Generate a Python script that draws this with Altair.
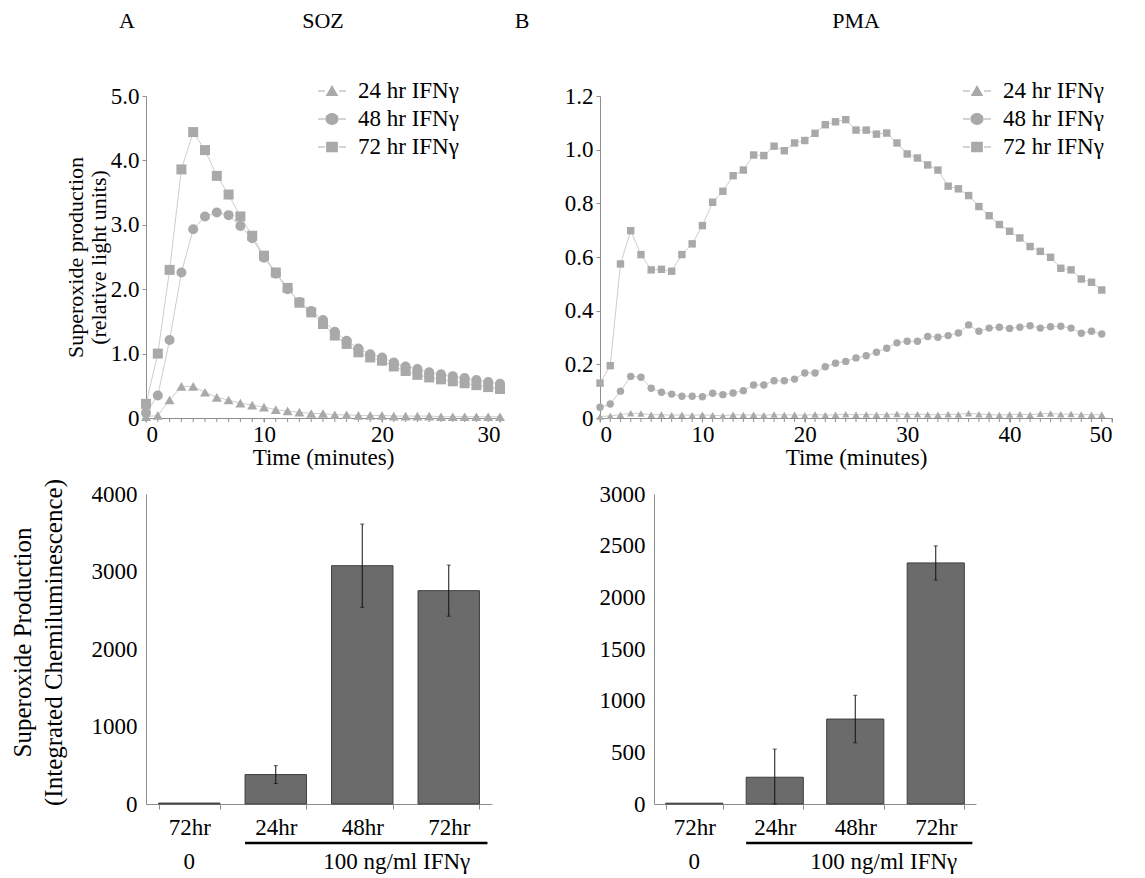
import altair as alt
import pandas as pd

FONT = "Liberation Serif"
MARK_COLOR = "#a9a9a9"
LINE_COLOR = "#cdcdcd"
AXIS_COLOR = "#8f8f8f"
BAR_FILL = "#6b6b6b"
BAR_STROKE = "#3f3f3f"
FS = 23

SERIES = ["24 hr IFNγ", "48 hr IFNγ", "72 hr IFNγ"]
SHAPES = ["triangle-up", "circle", "square"]
DASH = "M-1,-0.04H-0.5V0.04H-1Z M0.5,-0.04H1V0.04H0.5Z "
LEGEND_SHAPES = [
    DASH + "M0,-0.42L0.45,0.36H-0.45Z",
    DASH + "M-0.47,0A0.47,0.42,0,1,0,0.47,0A0.47,0.42,0,1,0,-0.47,0Z",
    DASH + "M-0.42,-0.38H0.42V0.38H-0.42Z",
]

# ---- panel A (SOZ), one reading per minute ----
SOZ_TIME = list(range(0, 31))
SOZ_24 = [0.02, 0.04, 0.28, 0.49, 0.49, 0.40, 0.32, 0.28, 0.23, 0.20, 0.17,
          0.13, 0.11, 0.09, 0.07, 0.07, 0.05, 0.05, 0.04, 0.04, 0.04, 0.03,
          0.03, 0.03, 0.03, 0.02, 0.02, 0.02, 0.02, 0.02, 0.02]
SOZ_48 = [0.08, 0.35, 1.21, 2.26, 2.93, 3.13, 3.19, 3.15, 2.98, 2.79, 2.49,
          2.24, 2.00, 1.80, 1.66, 1.52, 1.34, 1.20, 1.08, 0.99, 0.94, 0.86,
          0.80, 0.76, 0.71, 0.68, 0.65, 0.62, 0.59, 0.56, 0.53]
SOZ_72 = [0.22, 1.00, 2.30, 3.86, 4.44, 4.16, 3.76, 3.47, 3.13, 2.83, 2.52,
          2.26, 2.02, 1.79, 1.64, 1.46, 1.28, 1.15, 1.02, 0.94, 0.89, 0.80,
          0.73, 0.67, 0.63, 0.60, 0.57, 0.54, 0.51, 0.48, 0.45]

# ---- panel B (PMA), one reading per minute ----
PMA_TIME = list(range(0, 50))
PMA_24 = [0.005, 0.008, 0.012, 0.018, 0.017, 0.012, 0.013, 0.010, 0.012, 0.010,
          0.012, 0.010, 0.008, 0.012, 0.011, 0.012, 0.010, 0.013, 0.011, 0.012,
          0.010, 0.013, 0.011, 0.012, 0.014, 0.012, 0.013, 0.012, 0.013, 0.015,
          0.013, 0.014, 0.013, 0.012, 0.014, 0.013, 0.018, 0.014, 0.013, 0.011,
          0.013, 0.014, 0.012, 0.016, 0.017, 0.014, 0.015, 0.013, 0.012, 0.012]
PMA_48 = [0.040, 0.052, 0.100, 0.155, 0.152, 0.111, 0.096, 0.089, 0.081, 0.081,
          0.079, 0.092, 0.087, 0.093, 0.102, 0.123, 0.123, 0.139, 0.139, 0.145,
          0.168, 0.168, 0.191, 0.204, 0.211, 0.224, 0.232, 0.245, 0.260, 0.280,
          0.286, 0.286, 0.304, 0.301, 0.307, 0.317, 0.347, 0.323, 0.335, 0.338,
          0.334, 0.338, 0.344, 0.335, 0.340, 0.342, 0.335, 0.316, 0.323, 0.313]
PMA_72 = [0.130, 0.195, 0.574, 0.698, 0.609, 0.552, 0.554, 0.547, 0.609, 0.649,
          0.717, 0.804, 0.845, 0.903, 0.924, 0.980, 0.978, 1.013, 0.996, 1.025,
          1.034, 1.061, 1.093, 1.104, 1.112, 1.073, 1.073, 1.058, 1.062, 1.025,
          0.984, 0.969, 0.943, 0.924, 0.864, 0.854, 0.829, 0.788, 0.754, 0.721,
          0.696, 0.671, 0.639, 0.621, 0.599, 0.558, 0.552, 0.518, 0.506, 0.477]

# ---- bar panels ----
CATS = ["c0", "c1", "c2", "c3"]
CAT_LABELS = ["72hr", "24hr", "48hr", "72hr"]
SOZ_BAR = [12, 380, 3075, 2753]
SOZ_ERR = [0, 115, 537, 330]
PMA_BAR = [8, 259, 822, 2333]
PMA_ERR = [0, 272, 230, 165]


def anchor(x, y, baseline):
    # invisible text used only to fix the layout bounds of a panel
    return alt.Chart(pd.DataFrame({"s": ["."]})).mark_text(
        opacity=0, fontSize=10, align="left", baseline=baseline
    ).encode(text="s:N", x=alt.value(x), y=alt.value(y))


def line_panel(times, vals, width, height, xmax, ymax, yticks, sizes,
               letter, letter_x, name, name_x, legend_x, ytitle=None, extra=None):
    rows = []
    for s, vs in zip(SERIES, vals):
        for t, v in zip(times, vs):
            rows.append({"t": t, "v": v, "series": s})
    df = pd.DataFrame(rows)

    x_axis = alt.Axis(values=list(range(0, xmax + 1, 10)), format="d",
                      title="Time (minutes)", labelOverlap=False,
                      titleX=width / 2, titleY=39, titleBaseline="middle",
                      titleFontSize=FS, labelPadding=1, tickSize=4)
    ykw = dict(values=yticks, tickSize=4, labelPadding=3,
               labelExpr="datum.value == 0 ? '0' : format(datum.value, '.1f')")
    if ytitle:
        ykw.update(title=ytitle, titleX=-71, titleY=height / 2, titleAngle=270,
                   titleAlign="center", titleBaseline="middle", titleFontSize=22,
                   titleLineHeight=23)
    else:
        ykw.update(title=None)
    x = alt.X("t:Q", scale=alt.Scale(domain=[0, xmax], nice=False), axis=x_axis)
    y = alt.Y("v:Q", scale=alt.Scale(domain=[0, ymax], nice=False), axis=alt.Axis(**ykw))

    base = alt.Chart(df)
    lines = base.mark_line(color=LINE_COLOR, strokeWidth=1).encode(x=x, y=y, detail="series:N")
    pts = base.mark_point(filled=True, opacity=1, color=MARK_COLOR, strokeWidth=0).encode(
        x="t:Q", y="v:Q",
        shape=alt.Shape("series:N", scale=alt.Scale(domain=SERIES, range=SHAPES), legend=None),
        size=alt.Size("series:O", scale=alt.Scale(domain=SERIES, range=sizes), legend=None),
        order=alt.Order("series:N"),
    )
    leg = base.transform_filter("false").mark_point(filled=True, opacity=1, color=MARK_COLOR).encode(
        x="t:Q", y="v:Q",
        shape=alt.Shape("series:N", scale=alt.Scale(domain=SERIES, range=LEGEND_SHAPES),
                        legend=alt.Legend(title=None, orient="none", legendX=legend_x, legendY=-19,
                                          labelFont=FONT, labelFontSize=FS, labelColor="black",
                                          symbolSize=784, labelOffset=12, rowPadding=2,
                                          symbolFillColor=MARK_COLOR, symbolStrokeWidth=0,
                                          symbolOpacity=1, padding=0, labelLimit=0)),
    )
    # small ticks at every reading along the time axis
    minute_ticks = alt.Chart(pd.DataFrame({"t": list(range(0, xmax + 1))})).mark_rule(
        color=AXIS_COLOR, strokeWidth=1
    ).encode(x="t:Q", y=alt.value(height), y2=alt.value(height + 4))
    t1 = alt.Chart(pd.DataFrame({"s": [letter]})).mark_text(
        font=FONT, fontSize=22, color="black", baseline="middle", align="center"
    ).encode(text="s:N", x=alt.value(letter_x), y=alt.value(-75))
    t2 = alt.Chart(pd.DataFrame({"s": [name]})).mark_text(
        font=FONT, fontSize=22, color="black", baseline="middle", align="center"
    ).encode(text="s:N", x=alt.value(name_x), y=alt.value(-75))
    layers = [lines, minute_ticks, pts, leg, t1, t2] + (extra or [])
    return alt.layer(*layers).resolve_scale(
        shape="independent", size="independent"
    ).properties(width=width, height=height)


def bar_panel(means, errs, width, height, ymax, ytitle=None, extra=None):
    df = pd.DataFrame({
        "cat": CATS,
        "mean": means,
        "lo": [max(0, m - e) for m, e in zip(means, errs)],
        "hi": [m + e for m, e in zip(means, errs)],
        "err": errs,
    })
    label_expr = ("datum.value == 'c0' ? '%s' : datum.value == 'c1' ? '%s' : "
                  "datum.value == 'c2' ? '%s' : datum.value == 'c3' ? '%s' : ''") % tuple(CAT_LABELS)
    x = alt.X("cat:N", sort=CATS,
              scale=alt.Scale(domain=CATS, paddingInner=0.29, paddingOuter=0.145),
              axis=alt.Axis(title=None, labelExpr=label_expr, labelAngle=0, tickBand="extent",
                            tickSize=5, labelPadding=7, labelFontSize=FS))
    ykw = dict(values=list(range(0, ymax + 1, 500)), format="d", ticks=False, labelPadding=9)
    if ytitle:
        ykw.update(title=ytitle, titleX=-124, titleY=148, titleAngle=270, titleAlign="center",
                   titleBaseline="middle", titleFontSize=25, titleLineHeight=31)
    else:
        ykw.update(title=None)
    y = alt.Y("mean:Q", scale=alt.Scale(domain=[0, ymax], nice=False), axis=alt.Axis(**ykw))

    base = alt.Chart(df)
    bars = base.mark_bar(color=BAR_FILL, stroke=BAR_STROKE, strokeWidth=1).encode(x=x, y=y)
    ebase = base.transform_filter("datum.err > 0")
    err = ebase.mark_rule(color="#111111", strokeWidth=1).encode(x="cat:N", y="lo:Q", y2="hi:Q")
    cap_hi = ebase.mark_tick(color="#111111", size=4, thickness=1, orient="horizontal").encode(
        x="cat:N", y="hi:Q")
    cap_lo = ebase.mark_tick(color="#111111", size=4, thickness=1, orient="horizontal").encode(
        x="cat:N", y="lo:Q")

    zero_lbl = alt.Chart(pd.DataFrame({"cat": ["c0"], "s": ["0"]})).mark_text(
        font=FONT, fontSize=FS, color="black", baseline="middle"
    ).encode(x="cat:N", text="s:N", y=alt.value(height + 58))
    ifn_lbl = alt.Chart(pd.DataFrame({"cat": ["c3"], "s": ["100 ng/ml IFNγ"]})).mark_text(
        font=FONT, fontSize=FS, color="black", baseline="middle", dx=-52
    ).encode(x="cat:N", text="s:N", y=alt.value(height + 58))
    line = alt.Chart(pd.DataFrame({"a": ["c1"], "b": ["c3"]})).mark_rule(
        color="black", strokeWidth=2.5, x2Offset=8
    ).encode(x=alt.X("a:N", bandPosition=0), x2=alt.X2("b", bandPosition=1),
             y=alt.value(height + 39))
    layers = [bars, err, cap_hi, cap_lo, zero_lbl, ifn_lbl, line] + (extra or [])
    return alt.layer(*layers).properties(width=width, height=height)


TL_W, TR_W, TOP_H = 354, 512, 322
BL_W, BR_W, BOT_H = 346, 322, 310

tl = line_panel(SOZ_TIME, [SOZ_24, SOZ_48, SOZ_72], TL_W, TOP_H, 30,
                5.0, [0, 1, 2, 3, 4, 5], [100, 100, 100], "A", -19, "SOZ", TL_W / 2, 172,
                ytitle=["Superoxide production", "(relative light units)"],
                extra=[anchor(-138, TOP_H + 50, "bottom")])
tr = line_panel(PMA_TIME, [PMA_24, PMA_48, PMA_72], TR_W, TOP_H, 50,
                1.2, [0, 0.2, 0.4, 0.6, 0.8, 1.0, 1.2], [55, 55, 85], "B", -78, "PMA",
                TR_W / 2, 363)
bl = bar_panel(SOZ_BAR, SOZ_ERR, BL_W, BOT_H, 4000,
               ytitle=["Superoxide Production", "(Integrated Chemiluminescence)"],
               extra=[anchor(-138, -20, "top")])
br = bar_panel(PMA_BAR, PMA_ERR, BR_W, BOT_H, 3000)

top = alt.hconcat(tl, tr, spacing=600 - 146 - TL_W, bounds="flush")
bottom = alt.hconcat(bl, br, spacing=654 - 146 - BL_W, bounds="flush")
chart = alt.vconcat(top, bottom, spacing=5).properties(
    padding={"left": 0, "top": 2, "right": 5, "bottom": 5}
).configure(font=FONT).configure_view(stroke=None).configure_axis(
    domainColor=AXIS_COLOR, tickColor=AXIS_COLOR, labelColor="black", titleColor="black",
    labelFont=FONT, titleFont=FONT, labelFontSize=FS, titleFontWeight="normal", grid=False
)

chart.save("out.html", embed_options={"renderer": "svg", "actions": False})
